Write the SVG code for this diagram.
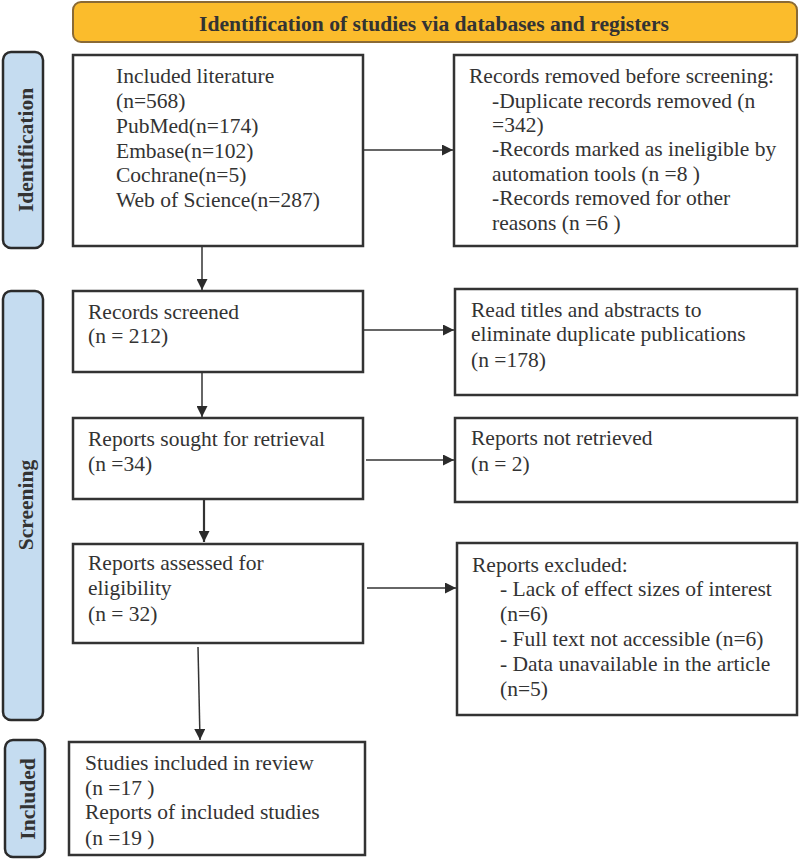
<svg xmlns="http://www.w3.org/2000/svg" width="800" height="859" viewBox="0 0 800 859">
<style>
text{font-family:"Liberation Serif","DejaVu Serif",serif;fill:#333;}
.t{font-size:21.5px;font-weight:normal;}
.side{font-size:21.5px;font-weight:bold;fill:#333;}
.box{fill:#fff;stroke:#333;stroke-width:2.5;}
.bar{fill:#C5DCF0;stroke:#2b2b2b;stroke-width:2.5;}
.conn line{stroke:#333;stroke-width:1.5;}
</style>
<defs>
<marker id="ah2" viewBox="0 0 10 10" refX="10" refY="5" markerWidth="11" markerHeight="11" markerUnits="userSpaceOnUse" orient="auto"><path d="M0,0 L10,5 L0,10 z" fill="#2b2b2b"/></marker>
</defs>

<g id="banner">
<rect x="73" y="2" width="724" height="40" rx="8" fill="#FBBC2C" stroke="#8A6A35" stroke-width="2"/>
<text x="434" y="31" text-anchor="middle" style="font-size:21.6px;font-weight:bold">Identification of studies via databases and registers</text>
</g>

<g id="bar-identification">
<rect class="bar" x="3" y="52" width="40" height="196" rx="8"/>
<text class="side" transform="translate(33,150) rotate(-90)" text-anchor="middle">Identification</text>
</g>
<g id="bar-screening">
<rect class="bar" x="3" y="291" width="40" height="429" rx="8"/>
<text class="side" transform="translate(33,505) rotate(-90)" text-anchor="middle">Screening</text>
</g>
<g id="bar-included">
<rect class="bar" x="5" y="740" width="40" height="117" rx="8"/>
<text class="side" transform="translate(35,799) rotate(-90)" text-anchor="middle">Included</text>
</g>

<g id="n-included-literature">
<rect class="box" x="73" y="55" width="290" height="191"/>
<text class="t" x="116" y="83">Included literature</text>
<text class="t" x="116" y="107.5">(n=568)</text>
<text class="t" x="116" y="132.5">PubMed(n=174)</text>
<text class="t" x="116" y="157.5">Embase(n=102)</text>
<text class="t" x="116" y="182">Cochrane(n=5)</text>
<text class="t" x="116" y="206.5">Web of Science(n=287)</text>
</g>

<g id="n-removed">
<rect class="box" x="454" y="55" width="343" height="191"/>
<text class="t" x="469" y="83">Records removed before screening:</text>
<text class="t" x="492" y="107.5">-Duplicate records removed  (n</text>
<text class="t" x="492" y="131.5">=342)</text>
<text class="t" x="492" y="156">-Records marked as ineligible by</text>
<text class="t" x="492" y="180.5">automation tools (n =8 )</text>
<text class="t" x="492" y="205">-Records removed for other</text>
<text class="t" x="492" y="229.5">reasons (n =6 )</text>
</g>

<g id="n-screened">
<rect class="box" x="73" y="291" width="290" height="81"/>
<text class="t" x="88" y="319">Records screened</text>
<text class="t" x="88" y="343">(n = 212)</text>
</g>

<g id="n-read-titles">
<rect class="box" x="455" y="289" width="342" height="106"/>
<text class="t" x="471" y="317">Read titles and abstracts to</text>
<text class="t" x="471" y="341">eliminate duplicate publications</text>
<text class="t" x="471" y="367">(n =178)</text>
</g>

<g id="n-sought">
<rect class="box" x="73" y="418" width="290" height="81"/>
<text class="t" x="88" y="446">Reports sought for retrieval</text>
<text class="t" x="88" y="471">(n =34)</text>
</g>

<g id="n-not-retrieved">
<rect class="box" x="455" y="418" width="342" height="84"/>
<text class="t" x="471" y="445">Reports not retrieved</text>
<text class="t" x="471" y="471">(n = 2)</text>
</g>

<g id="n-assessed">
<rect class="box" x="73" y="544" width="290" height="99"/>
<text class="t" x="88" y="570">Reports assessed for</text>
<text class="t" x="88" y="595">eligibility</text>
<text class="t" x="88" y="621">(n = 32)</text>
</g>

<g id="n-excluded">
<rect class="box" x="457" y="543" width="340" height="172"/>
<text class="t" x="472" y="572">Reports excluded:</text>
<text class="t" x="500" y="596">- Lack of effect sizes of interest</text>
<text class="t" x="500" y="621">(n=6)</text>
<text class="t" x="500" y="646">- Full text not accessible (n=6)</text>
<text class="t" x="500" y="671">- Data unavailable in the article</text>
<text class="t" x="500" y="696">(n=5)</text>
</g>

<g id="n-included">
<rect class="box" x="69" y="742" width="296" height="113"/>
<text class="t" x="85" y="770">Studies included in review</text>
<text class="t" x="85" y="795">(n =17 )</text>
<text class="t" x="85" y="819">Reports of included studies</text>
<text class="t" x="85" y="845">(n =19 )</text>
</g>

<g id="connectors" class="conn">
<line x1="363" y1="150" x2="453" y2="150" marker-end="url(#ah2)"/>
<line x1="202" y1="247" x2="202" y2="290" marker-end="url(#ah2)"/>
<line x1="363" y1="330" x2="454" y2="330" marker-end="url(#ah2)"/>
<line x1="202" y1="372" x2="202" y2="417" marker-end="url(#ah2)"/>
<line x1="366" y1="460" x2="454" y2="460" marker-end="url(#ah2)"/>
<line x1="204" y1="500" x2="204" y2="542" marker-end="url(#ah2)" style="stroke-width:2.2"/>
<line x1="367" y1="588" x2="456" y2="588" marker-end="url(#ah2)"/>
<line x1="198" y1="647" x2="200" y2="740" marker-end="url(#ah2)"/>
</g>
</svg>
